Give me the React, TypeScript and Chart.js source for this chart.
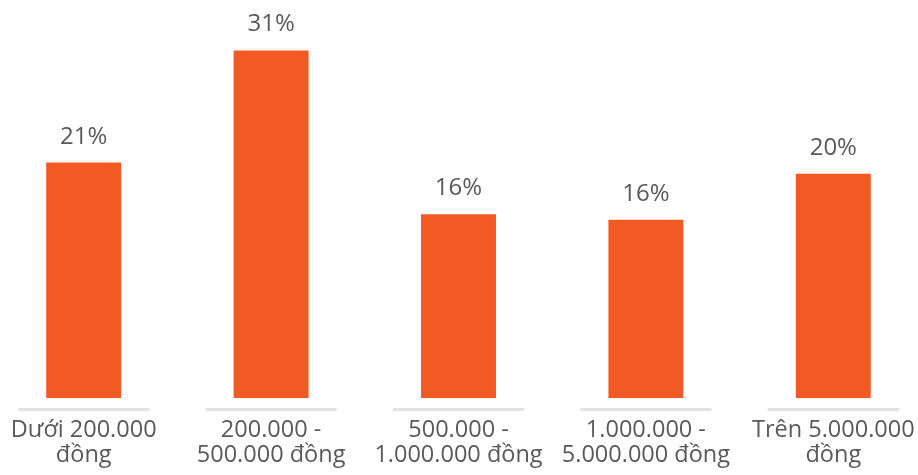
import React, { useEffect, useRef } from "react";
import { Chart, registerables } from "chart.js";

Chart.register(...registerables);

// Spending brackets (two-line axis labels) and share of respondents, %
const categories: string[][] = [
  ["Dưới 200.000", "đồng"],
  ["200.000 -", "500.000 đồng"],
  ["500.000 -", "1.000.000 đồng"],
  ["1.000.000 -", "5.000.000 đồng"],
  ["Trên 5.000.000", "đồng"],
];
const shares: number[] = [21.0, 31.0, 16.4, 15.9, 20.0];

const BAR_COLOR = "#F15A22";
const TEXT_COLOR = "#595959";
const BASE_LINE_COLOR = "#E3E3E6";
const FONT = "'Open Sans', 'DejaVu Sans', sans-serif";

// Percentage labels above each bar
const valueLabels = {
  id: "valueLabels",
  afterDatasetsDraw(chart: any) {
    const { ctx } = chart;
    const meta = chart.getDatasetMeta(0);
    ctx.save();
    ctx.font = `24px ${FONT}`;
    ctx.fillStyle = TEXT_COLOR;
    ctx.textAlign = "center";
    ctx.textBaseline = "alphabetic";
    meta.data.forEach((bar: any, i: number) => {
      ctx.fillText(`${Math.round(shares[i])}%`, bar.x, bar.y - 19);
    });
    ctx.restore();
  },
};

// Short grey base segment under each category
const baseSegments = {
  id: "baseSegments",
  beforeDatasetsDraw(chart: any) {
    const { ctx, chartArea } = chart;
    const x = chart.scales.x;
    const step = x.getPixelForTick(1) - x.getPixelForTick(0);
    const half = (step * 0.7) / 2;
    ctx.save();
    ctx.strokeStyle = BASE_LINE_COLOR;
    ctx.lineWidth = 3;
    const y = chartArea.bottom + 11.5;
    categories.forEach((_, i) => {
      const cx = x.getPixelForTick(i);
      ctx.beginPath();
      ctx.moveTo(cx - half, y);
      ctx.lineTo(cx + half, y);
      ctx.stroke();
    });
    ctx.restore();
  },
};

export default function App() {
  const canvasRef = useRef<HTMLCanvasElement | null>(null);

  useEffect(() => {
    if (!canvasRef.current) return;
    const chart = new Chart(canvasRef.current, {
      type: "bar",
      data: {
        labels: categories,
        datasets: [
          {
            data: shares,
            backgroundColor: BAR_COLOR,
            borderWidth: 0,
            barPercentage: 0.4,
            categoryPercentage: 1,
          },
        ],
      },
      options: {
        animation: false,
        responsive: true,
        maintainAspectRatio: false,
        layout: { padding: { top: 0, bottom: 27, left: 0, right: 0 } },
        plugins: {
          legend: { display: false },
          tooltip: { enabled: false },
        },
        scales: {
          x: {
            grid: {
              display: true,
              drawOnChartArea: false,
              drawTicks: true,
              tickLength: 20,
              color: "rgba(0,0,0,0)",
            },
            border: { display: false },
            ticks: {
              color: TEXT_COLOR,
              padding: 0,
              maxRotation: 0,
              autoSkip: false,
              font: { family: FONT, size: 23.5, lineHeight: 25 / 23.5 },
            },
          },
          y: {
            display: false,
            min: 0,
            max: 35.5,
          },
        },
      },
      plugins: [baseSegments, valueLabels],
    });
    return () => chart.destroy();
  }, []);

  return (
    <div
      style={{
        position: "fixed",
        left: 0,
        top: 0,
        width: 918,
        height: 475,
        overflow: "hidden",
        background: "#ffffff",
      }}
    >
      <div style={{ position: "absolute", left: -10, top: 0, width: 937, height: 495 }}>
        <canvas ref={canvasRef} />
      </div>
    </div>
  );
}
